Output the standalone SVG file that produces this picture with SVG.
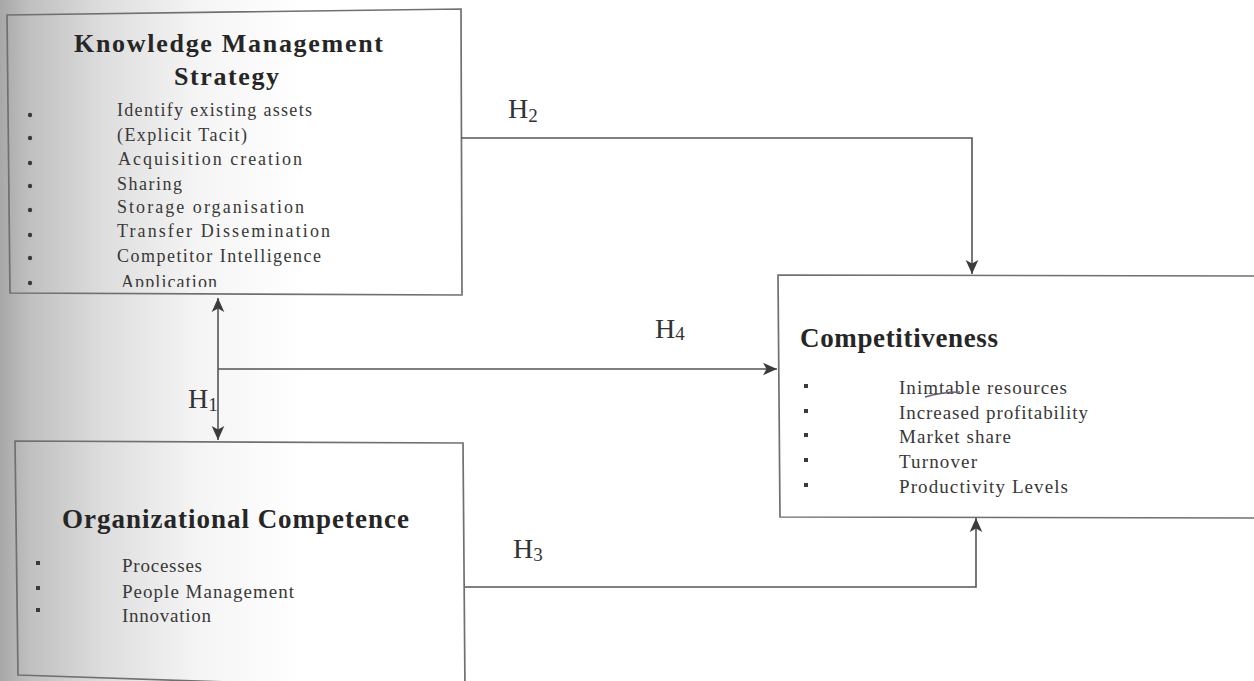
<svg xmlns="http://www.w3.org/2000/svg" width="1254" height="681" viewBox="0 0 1254 681">
  <defs>
    <linearGradient id="shade" x1="0" y1="0" x2="1" y2="0">
      <stop offset="0" stop-color="#a8a8a8"/>
      <stop offset="0.1" stop-color="#c0c0c0"/>
      <stop offset="0.35" stop-color="#dedede"/>
      <stop offset="0.65" stop-color="#f4f4f4"/>
      <stop offset="1" stop-color="#ffffff"/>
    </linearGradient>
    <marker id="arr" viewBox="0 0 10 10" refX="10" refY="5" markerWidth="14" markerHeight="14" markerUnits="userSpaceOnUse" orient="auto-start-reverse">
      <path d="M0,0.5 L10,5 L0,9.5 L2.5,5 Z" fill="#3c3c3c"/>
    </marker>
    <clipPath id="appclip">
      <rect x="0" y="0" width="470" height="287"/>
    </clipPath>
    <style>
      .box { fill: none; stroke: #707070; stroke-width: 1.7; }
      .conn { fill: none; stroke: #555555; stroke-width: 1.6; }
      .title { font-family: "Liberation Serif", "Times New Roman", serif; font-weight: bold; fill: #262626; }
      .item { font-family: "Liberation Serif", "Times New Roman", serif; fill: #383838; }
      .hl { font-family: "Liberation Serif", "Times New Roman", serif; fill: #333333; font-size: 28px; }
      .sub { font-size: 19px; }
      .dot { fill: #3a3a3a; }
    </style>
  </defs>

  <rect x="0" y="0" width="1254" height="681" fill="#ffffff"/>
  <rect x="0" y="0" width="300" height="681" fill="url(#shade)"/>

  <g id="kms">
    <polygon class="box" points="7,15 461,9 462,295 10,293"/>
    <text class="title" x="74" y="52" font-size="26" textLength="309">Knowledge Management</text>
    <text class="title" x="174" y="85" font-size="26" textLength="105">Strategy</text>
    <g class="dot">
      <circle cx="30" cy="115" r="2.2"/>
      <circle cx="30" cy="138" r="2.2"/>
      <circle cx="30" cy="163" r="2.2"/>
      <circle cx="30" cy="186" r="2.2"/>
      <circle cx="30" cy="210" r="2.2"/>
      <circle cx="30" cy="235" r="2.2"/>
      <circle cx="30" cy="258" r="2.2"/>
      <circle cx="30" cy="283" r="2.2"/>
    </g>
    <g class="item" font-size="18">
      <text x="117" y="116" textLength="195">Identify existing assets</text>
      <text x="117" y="141" textLength="130">(Explicit Tacit)</text>
      <text x="118" y="165" textLength="184">Acquisition creation</text>
      <text x="117" y="190" textLength="65">Sharing</text>
      <text x="117" y="213" textLength="187">Storage organisation</text>
      <text x="117" y="237" textLength="213">Transfer Dissemination</text>
      <text x="117" y="262" textLength="204">Competitor Intelligence</text>
      <text x="121" y="288" textLength="96" clip-path="url(#appclip)">Application</text>
    </g>
  </g>

  <g id="org">
    <polygon class="box" points="15,441 463,443 465,690 18,675"/>
    <text class="title" x="62" y="528" font-size="27" textLength="347">Organizational Competence</text>
    <g class="dot">
      <rect x="36" y="561" width="4" height="4"/>
      <rect x="36" y="586" width="4" height="4"/>
      <rect x="36" y="608" width="4" height="4"/>
    </g>
    <g class="item" font-size="19">
      <text x="122" y="572" textLength="80">Processes</text>
      <text x="122" y="598" textLength="172">People Management</text>
      <text x="122" y="622" textLength="89">Innovation</text>
    </g>
  </g>

  <g id="comp">
    <polygon class="box" points="778,275 1256,276 1256,518 780,517"/>
    <text class="title" x="800" y="347" font-size="27" textLength="198">Competitiveness</text>
    <g class="dot">
      <rect x="804" y="384" width="4" height="4"/>
      <rect x="804" y="409" width="4" height="4"/>
      <rect x="804" y="433" width="4" height="4"/>
      <rect x="804" y="458" width="4" height="4"/>
      <rect x="804" y="483" width="4" height="4"/>
    </g>
    <g class="item" font-size="19">
      <text x="899" y="394" textLength="168">Inimtable resources</text>
      <text x="899" y="419" textLength="189">Increased profitability</text>
      <text x="899" y="443" textLength="112">Market share</text>
      <text x="899" y="468" textLength="78">Turnover</text>
      <text x="899" y="493" textLength="169">Productivity Levels</text>
    </g>
    <path d="M925,397 Q942,392 960,392" fill="none" stroke="#6a5c78" stroke-width="1.5"/>
  </g>

  <g id="connectors">
    <line class="conn" x1="218" y1="298" x2="218" y2="440" marker-start="url(#arr)" marker-end="url(#arr)"/>
    <path class="conn" d="M218,369 H777" marker-end="url(#arr)"/>
    <path class="conn" d="M461,138 H972 V274" marker-end="url(#arr)"/>
    <path class="conn" d="M465,587 H976 V518" marker-end="url(#arr)"/>
  </g>

  <g id="labels">
    <text class="hl" x="188" y="408">H<tspan class="sub" dy="3">1</tspan></text>
    <text class="hl" x="508" y="118">H<tspan class="sub" dy="4">2</tspan></text>
    <text class="hl" x="513" y="558">H<tspan class="sub" dy="3">3</tspan></text>
    <text class="hl" x="655" y="338">H<tspan class="sub" dy="2">4</tspan></text>
  </g>
</svg>
